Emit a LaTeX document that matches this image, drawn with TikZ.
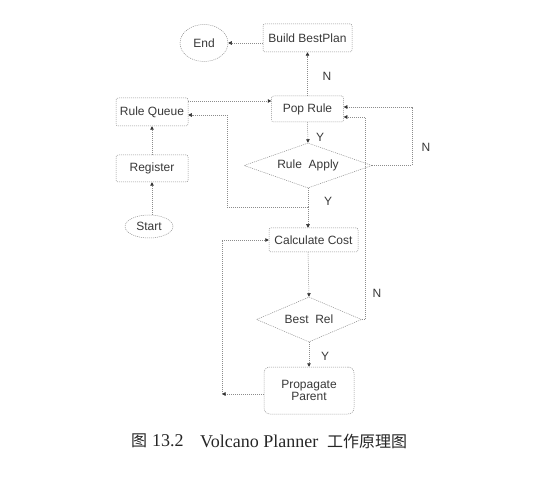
\documentclass[tikz,border=0pt]{standalone}
\usepackage{fontspec}
\setmainfont{Liberation Sans}
\newfontfamily\capfont{Liberation Serif}
\newfontfamily\cjkfont{Noto Sans CJK SC}
\usetikzlibrary{shapes.geometric,arrows.meta}
\begin{document}
\begin{tikzpicture}[x=1pt,y=-1pt,
  txt/.style={text=black!78, font=\fontsize{12}{13}\selectfont},
  ln/.style={draw=black!45, line width=0.5pt, dash pattern=on 1pt off 1pt},
  box/.style={txt, ln, rectangle, rounded corners=2pt, inner sep=0pt, align=center},
  oval/.style={txt, ln, ellipse, inner sep=0pt},
  dia/.style={txt, ln, diamond, inner sep=0pt, aspect=2.8},
  arr/.style={ln, -{Triangle[length=3.5pt,width=3.5pt,color=black!80,fill=black!80,sep=0pt]}},
  lab/.style={txt, inner sep=0pt},
  captxt/.style={inner sep=0pt, anchor=west, text=black!85}]
\useasboundingbox (0,0) rectangle (557,478);
\node[oval, minimum width=48pt, minimum height=37pt] (End) at (204,43) {End};
\node[box, minimum width=89pt, minimum height=28pt] (BestPlan) at (307.5,38) {Build BestPlan};
\node[box, minimum width=72pt, minimum height=26pt] (PopRule) at (307.5,109) {Pop Rule};
\node[box, minimum width=72pt, minimum height=28pt] (RuleQueue) at (152,112) {Rule Queue};
\node[box, minimum width=72pt, minimum height=27pt] (Register) at (152,168.5) {Register};
\node[oval, minimum width=48pt, minimum height=23pt] (Start) at (149,226.5) {Start};
\node[dia, minimum width=128pt, minimum height=45pt] (RuleApply) at (308,165.5) {Rule\ \ Apply};
\node[box, minimum width=89pt, minimum height=24pt] (CalcCost) at (313.5,240) {Calculate Cost};
\node[dia, minimum width=105pt, minimum height=45pt] (BestRel) at (309,319.5) {Best\ \ Rel};
\node[box, rounded corners=6pt, minimum width=90pt, minimum height=47pt] (Prop) at (309,390.5) {Propagate\\[-1pt]Parent};
\coordinate (ySplit) at (308,207);
\coordinate (cLeft) at (222,394);
% connectors
\draw[arr] (End.east -| BestPlan.west) -- (End.east);
\draw[arr] (PopRule.north) -- (BestPlan.south);
\node[lab] (n1) at (327,76) {N};
\draw[arr] (RuleQueue.east |- 0,101) -- (PopRule.west |- 0,101);
\draw[arr] (PopRule.south) -- (RuleApply.north);
\node[lab] (y1) at (320,137) {Y};
\draw[arr] (RuleApply.east) -- (412,165.5) -- (412,107) -- (PopRule.east |- 0,107);
\node[lab] (n2) at (426,147) {N};
\draw[ln] (RuleApply.south) -- (ySplit);
\draw[arr] (ySplit) -- (ySplit |- CalcCost.north);
\draw[arr] (ySplit) -- (227,207) -- (227,115) -- (RuleQueue.east |- 0,115);
\node[lab] (y2) at (328,201) {Y};
\draw[arr] (308,252) -- (BestRel.north);
\draw[arr] (BestRel.east) -- (365,319.5) -- (365,117) -- (PopRule.east |- 0,117);
\node[lab] (n3) at (377,293) {N};
\draw[arr] (BestRel.south) -- (Prop.north);
\node[lab] (y3) at (325,356) {Y};
\draw[arr] (Prop.west |- cLeft) -- (cLeft);
\draw[arr] (cLeft) -- (222,240) -- (CalcCost.west |- 0,240);
\draw[arr] (Register.north) -- (RuleQueue.south);
\draw[arr] (Start.north -| Register.south) -- (Register.south);
% caption
\node[captxt, font=\cjkfont\fontsize{16}{18}\selectfont] (c1) at (131,441) {图};
\node[captxt, font=\capfont\fontsize{18}{20}\selectfont] (c2) at (152,441) {13.2};
\node[captxt, font=\capfont\fontsize{18}{20}\selectfont] (c3) at (200,441) {Volcano Planner};
\node[captxt, font=\cjkfont\fontsize{16}{18}\selectfont] (c4) at (327,441) {工作原理图};
\end{tikzpicture}
\end{document}
